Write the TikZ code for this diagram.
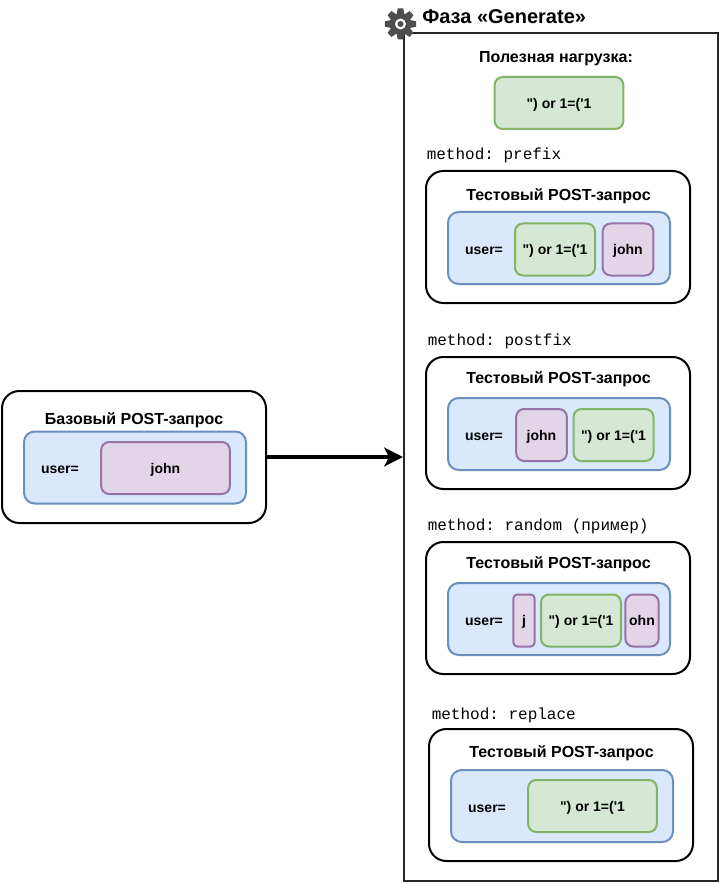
\documentclass[tikz,border=0pt]{standalone}
\usepackage{fontspec}
\setmainfont{Liberation Sans}
\setmonofont{Liberation Mono}
\newfontfamily\boxfont{Liberation Sans}
\usetikzlibrary{arrows.meta}
\definecolor{reqfill}{HTML}{DAE8FC}
\definecolor{reqline}{HTML}{6C8EBF}
\definecolor{payfill}{HTML}{D5E8D4}
\definecolor{payline}{HTML}{82B366}
\definecolor{valfill}{HTML}{E1D5E7}
\definecolor{valline}{HTML}{9673A6}
\definecolor{gearcol}{HTML}{4D4D4D}
\tikzset{
  phasebox/.style={draw=black!85,line width=1.5pt,minimum width=235.5pt,minimum height=636pt},
  postbox/.style={draw=black,line width=1.5pt,rounded corners=13pt,fill=white,minimum width=198pt,minimum height=99pt},
  reqbox/.style={draw=reqline,line width=1.5pt,rounded corners=8pt,fill=reqfill,minimum width=166.5pt,minimum height=54pt},
  paybox/.style={draw=payline,line width=1.5pt,rounded corners=6pt,fill=payfill,minimum height=39pt,inner sep=0pt,text height=10pt,text depth=2pt,font=\boxfont\bfseries\fontsize{10.5}{12}\selectfont},
  valbox/.style={draw=valline,line width=1.5pt,rounded corners=6pt,fill=valfill,minimum height=39pt,inner sep=0pt,text height=10pt,text depth=2pt,font=\boxfont\bfseries\fontsize{10.5}{12}\selectfont},
  labeltxt/.style={font=\boxfont\bfseries\fontsize{10.5}{12}\selectfont,inner sep=0pt,text height=10pt,text depth=2pt},
  headtxt/.style={font=\bfseries\fontsize{12}{14}\selectfont,inner sep=0pt,text height=11.5pt,text depth=2.5pt},
  methodtxt/.style={font=\ttfamily\fontsize{12}{14}\selectfont,anchor=west,inner sep=0pt},
}
\begin{document}
\begin{tikzpicture}[x=0.75pt,y=-0.75pt]
  \useasboundingbox[fill=white] (0,0) rectangle (720,884);
  % phase frame
  \node[phasebox] (phase) at (561,457) {};
  \node[font=\bfseries\fontsize{15}{17}\selectfont,anchor=west,inner sep=0pt] (phasetitle) at (422,17) {Фаза «Generate»};
  % gear
  \begin{scope}[shift={(400.5,24)}]
    \foreach \a in {0,45,...,315}
      \fill[gearcol,rotate=\a] (-4,-9) -- (-2.8,-15.5) -- (2.8,-15.5) -- (4,-9) -- cycle;
    \fill[gearcol] (0,0) circle[radius=10.5];
    \fill[white] (0,0) circle[radius=5.5];
    \fill[gearcol] (0,0) circle[radius=3];
  \end{scope}
  % payload
  \node[headtxt] (paytitle) at (556,57) {Полезная нагрузка:};
  \node[paybox,minimum width=96.5pt] (payload) at (559,103) {") or 1=('1};
  % base request
  \node[postbox] (base) at (134,457) {};
  \node[headtxt] (basetitle) at (134,418) {Базовый POST-запрос};
  \node[reqbox] (basereq) at (135,467.5) {};
  \node[labeltxt] (baseuser) at (60,468) {user=};
  \node[valbox,minimum width=96.5pt] (baseval) at (165.5,468) {john};
  \draw[line width=3pt,-{Stealth[length=14pt,width=14pt,inset=3.5pt]}] (base) -- (phase);
  % prefix
  \node[methodtxt] (mprefix) at (426.5,155) {method: prefix};
  \node[postbox] (prefix) at (558,237) {};
  \node[headtxt] (prefixtitle) at (558.5,194) {Тестовый POST-запрос};
  \node[reqbox] (prefixreq) at (559,248) {};
  \node[labeltxt] (prefixuser) at (484,249) {user=};
  \node[paybox,minimum width=60pt] (prefixpay) at (555,249.5) {") or 1=('1};
  \node[valbox,minimum width=38pt] (prefixval) at (628,249.5) {john};
  % postfix
  \node[methodtxt] (mpostfix) at (427.5,341) {method: postfix};
  \node[postbox] (postfix) at (558,423) {};
  \node[headtxt] (postfixtitle) at (558.5,377) {Тестовый POST-запрос};
  \node[reqbox] (postfixreq) at (559,434) {};
  \node[labeltxt] (postfixuser) at (484,435) {user=};
  \node[valbox,minimum width=38pt] (postfixval) at (541.5,435) {john};
  \node[paybox,minimum width=60pt] (postfixpay) at (613.5,435) {") or 1=('1};
  % random
  \node[methodtxt] (mrandom) at (427.5,526) {method: random (пример)};
  \node[postbox] (random) at (558,608) {};
  \node[headtxt] (randomtitle) at (558.5,562) {Тестовый POST-запрос};
  \node[reqbox] (randomreq) at (559,619) {};
  \node[labeltxt] (randomuser) at (484,620) {user=};
  \node[valbox,minimum width=16pt,rounded corners=3pt] (randomj) at (524,620.5) {j};
  \node[paybox,minimum width=60pt] (randompay) at (581,620.5) {") or 1=('1};
  \node[valbox,minimum width=25pt] (randomohn) at (642,620.5) {ohn};
  % replace
  \node[methodtxt] (mreplace) at (431.5,715) {method: replace};
  \node[postbox] (replace) at (561,795) {};
  \node[headtxt] (replacetitle) at (561.5,751) {Тестовый POST-запрос};
  \node[reqbox] (replacereq) at (562,806) {};
  \node[labeltxt] (replaceuser) at (487,807) {user=};
  \node[paybox,minimum width=96.5pt] (replacepay) at (592.5,806) {") or 1=('1};
\end{tikzpicture}
\end{document}
